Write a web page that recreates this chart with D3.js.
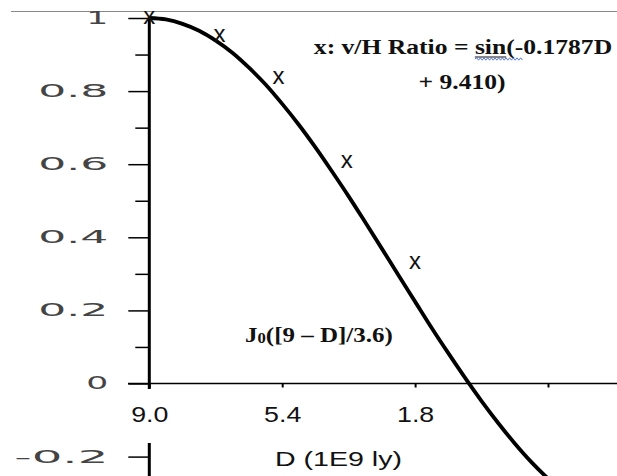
<!DOCTYPE html>
<html>
<head>
<meta charset="utf-8">
<script src="https://cdn.jsdelivr.net/npm/d3@7"></script>
<style>
body{margin:0;background:#fff;}
svg{display:block;background:#fff;}
</style>
</head>
<body>
<script>
// J0 curve, every 0.45 of D
var curveD = [9.0, 8.55, 8.1, 7.65, 7.2, 6.75, 6.3, 5.85, 5.4, 4.95, 4.5, 4.05, 3.6,
              3.15, 2.7, 2.25, 1.8, 1.35, 0.9, 0.45, 0.0, -0.45, -0.9, -1.35, -1.8, -2.3];
var curveV = [1.0, 0.996, 0.984, 0.965, 0.938, 0.905, 0.864, 0.818, 0.765, 0.708, 0.646, 0.580, 0.512,
              0.441, 0.369, 0.296, 0.224, 0.152, 0.083, 0.016, -0.048, -0.108, -0.164, -0.215, -0.260, -0.305];

// the "x" points (v/H ratio)
var ratioD = [9.0, 7.1, 5.5, 3.65, 1.8];
var ratioV = [1.0, 0.95, 0.835, 0.605, 0.33];

var xTicks = [9.0, 5.4, 1.8, -1.8];
var xTickLabels = ["9.0", "5.4", "1.8", ""];
var yTicks = [1, 0.8, 0.6, 0.4, 0.2, 0, -0.2];
var yTickLabels = ["1", "0.8", "0.6", "0.4", "0.2", "0", "-0.2"];
var yMinor = [0.9, 0.7, 0.5, 0.3, 0.1];

function init(){

    var w = 617;
    var h = 476;

    var x = d3.scaleLinear().domain([9, -1.8]).range([149.3, 548]);
    var y = d3.scaleLinear().domain([-0.2, 1]).range([456.6, 18]);

    var svg = d3.select("body")
                .append("svg")
                .attr("width", w)
                .attr("height", h);

    // thin gray rule at the very top
    svg.append("line")
        .attr("x1", 11).attr("x2", w)
        .attr("y1", 11.5).attr("y2", 11.5)
        .attr("stroke", "#888").attr("stroke-width", 1);

    // y axis: major + minor ticks
    var yAxis = d3.axisLeft(y)
                  .tickValues(yTicks)
                  .tickSize(21)
                  .tickPadding(20)
                  .tickFormat(function(d, i){ return yTickLabels[i]; });

    var gy = svg.append("g")
                .attr("transform", "translate(" + x(9) + ",0)")
                .call(yAxis);
    gy.select(".domain").remove();
    gy.selectAll(".tick line").attr("stroke", "#000").attr("stroke-width", 1.5);
    gy.selectAll(".tick text")
        .attr("font-family", "DejaVu Sans, sans-serif")
        .attr("font-size", 17)
        .attr("fill", "#444")
        .attr("textLength", function(d, i){ return yTickLabels[i].length * 24 - 2; })
        .attr("lengthAdjust", "spacingAndGlyphs");

    var gym = svg.append("g")
                 .attr("transform", "translate(" + x(9) + ",0)")
                 .call(d3.axisLeft(y).tickValues(yMinor).tickSize(14).tickFormat(""));
    gym.select(".domain").remove();
    gym.selectAll(".tick line").attr("stroke", "#000").attr("stroke-width", 1.5);

    // x axis
    var xAxis = d3.axisBottom(x)
                  .tickValues(xTicks)
                  .tickSize(4)
                  .tickPadding(19)
                  .tickFormat(function(d, i){ return xTickLabels[i]; });

    var gx = svg.append("g")
                .attr("transform", "translate(0," + y(0) + ")")
                .call(xAxis);
    gx.select(".domain").remove();
    gx.append("line")
        .attr("x1", 128).attr("x2", w)
        .attr("stroke", "#000").attr("stroke-width", 1.5);
    gx.selectAll(".tick line").attr("stroke", "#000").attr("stroke-width", 2);

    // thick vertical axis line
    svg.append("line")
        .attr("x1", x(9)).attr("x2", x(9))
        .attr("y1", y(1)).attr("y2", h)
        .attr("stroke", "#000").attr("stroke-width", 3);

    // white box behind the 9.0 label cuts the axis
    svg.append("rect")
        .attr("x", 124).attr("y", 389)
        .attr("width", 48).attr("height", 54)
        .attr("fill", "#fff");

    gx.raise();
    gx.selectAll(".tick text")
        .attr("font-family", "Liberation Sans, Arial, sans-serif")
        .attr("font-size", 22)
        .attr("fill", "#111")
        .attr("textLength", function(d, i){ return xTickLabels[i].length * 12.4; })
        .attr("lengthAdjust", "spacingAndGlyphs");

    svg.append("text")
        .attr("x", 338.5).attr("y", 466)
        .attr("text-anchor", "middle")
        .attr("font-family", "Liberation Sans, Arial, sans-serif")
        .attr("font-size", 21)
        .attr("fill", "#111")
        .attr("textLength", 127)
        .attr("lengthAdjust", "spacingAndGlyphs")
        .text("D (1E9 ly)");

    // J0 curve
    var pts = curveD.map(function(d, i){ return [d, curveV[i]]; });
    var line = d3.line()
                 .x(function(d){ return x(d[0]); })
                 .y(function(d){ return y(d[1]); })
                 .curve(d3.curveCatmullRom);

    svg.append("path")
        .datum(pts)
        .attr("d", line)
        .attr("fill", "none")
        .attr("stroke", "#000")
        .attr("stroke-width", 3.8);

    // x markers
    svg.selectAll("text.mark")
        .data(ratioD)
        .enter()
        .append("text")
        .attr("class", "mark")
        .attr("x", function(d){ return x(d); })
        .attr("y", function(d, i){ return y(ratioV[i]) + 6; })
        .attr("text-anchor", "middle")
        .attr("font-family", "Liberation Sans, Arial, sans-serif")
        .attr("font-size", 24)
        .attr("fill", "#111")
        .text("x");

    // formula note, top right
    var note = svg.append("g")
                  .attr("font-family", "Liberation Serif, Times New Roman, serif")
                  .attr("font-weight", "bold")
                  .attr("font-size", 21)
                  .attr("fill", "#111");

    var g1 = note.append("g").attr("transform", "translate(463,54) scale(1.22,1)");
    var t1 = g1.append("text")
               .attr("text-anchor", "middle")
               .text("x: v/H Ratio = sin(-0.1787D");
    var el = t1.node();
    var s0 = el.getStartPositionOfChar(15).x;
    var s1 = el.getEndPositionOfChar(17).x;
    var s2 = el.getEndPositionOfChar(19).x;
    g1.append("line")
        .attr("x1", s0).attr("x2", s1)
        .attr("y1", 3).attr("y2", 3)
        .attr("stroke", "#111").attr("stroke-width", 1.2);
    var wave = "M" + s0 + ",5";
    for (var k = s0 + 1.5, up = true; k <= s2; k += 1.5, up = !up) {
        wave += "L" + k + "," + (up ? 3.8 : 6.2);
    }
    g1.append("path")
        .attr("d", wave)
        .attr("fill", "none")
        .attr("stroke", "#4466dd")
        .attr("stroke-width", 0.8);

    note.append("g")
        .attr("transform", "translate(462,89) scale(1.22,1)")
        .append("text")
        .attr("text-anchor", "middle")
        .text("+ 9.410)");

    // J0 label
    var jt = svg.append("g")
                .attr("transform", "translate(245,342) scale(1.19,1)")
                .append("text")
                .attr("font-family", "Liberation Serif, Times New Roman, serif")
                .attr("font-weight", "bold")
                .attr("font-size", 21)
                .attr("fill", "#111");
    jt.append("tspan").text("J");
    jt.append("tspan").attr("font-size", 14).attr("dy", 1).text("0");
    jt.append("tspan").attr("dy", -1).text("([9 \u2013 D]/3.6)");
}

window.onload = init;
</script>
</body>
</html>
